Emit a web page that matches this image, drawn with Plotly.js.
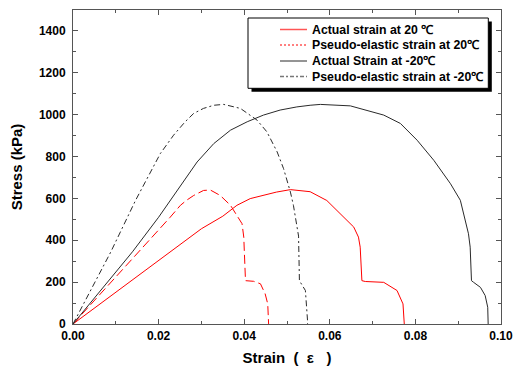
<!DOCTYPE html>
<html>
<head>
<meta charset="utf-8">
<script src="https://cdn.plot.ly/plotly-3.0.1.min.js"></script>
<style>html,body{margin:0;padding:0;background:#fff;}#chart{width:518px;height:369px;}</style>
</head>
<body>
<div id="chart"></div>
<script>
// Actual strain at 20 °C
var actual20Strain = [0, 0.005, 0.010, 0.015, 0.0185, 0.020, 0.025, 0.030, 0.035, 0.0383, 0.0414, 0.0445, 0.0475, 0.0508, 0.0554, 0.0593, 0.0625, 0.0656, 0.0667, 0.0671, 0.0675, 0.0683, 0.0726, 0.0757, 0.0771, 0.0774];
var actual20Stress = [0, 76, 152, 228, 279, 305, 380, 455, 515, 567, 599, 614, 630, 642, 632, 590, 527, 463, 415, 367, 207, 203, 199, 160, 96, 0];
// Pseudo-elastic strain at 20 °C
var pseudo20Strain = [0, 0.005, 0.010, 0.0154, 0.020, 0.0227, 0.0251, 0.0266, 0.0282, 0.0305, 0.0321, 0.0344, 0.0368, 0.0395, 0.0399, 0.0403, 0.0422, 0.0438, 0.0449, 0.0455, 0.0457];
var pseudo20Stress = [0, 112, 223, 343, 445, 510, 567, 592, 614, 638, 640, 614, 567, 479, 415, 207, 204, 192, 144, 96, 0];
// Actual strain at -20 °C
var actualM20Strain = [0, 0.005, 0.010, 0.0139, 0.020, 0.0251, 0.029, 0.0329, 0.0368, 0.0407, 0.0445, 0.0484, 0.0523, 0.0554, 0.0578, 0.0648, 0.0726, 0.0765, 0.0804, 0.0843, 0.0882, 0.0905, 0.0924, 0.0928, 0.0931, 0.0936, 0.0952, 0.0963, 0.0969, 0.0970];
var actualM20Stress = [0, 125, 250, 345, 510, 662, 774, 862, 926, 966, 998, 1022, 1037, 1045, 1049, 1042, 998, 958, 878, 782, 670, 591, 431, 367, 207, 199, 175, 136, 80, 0];
// Pseudo-elastic strain at -20 °C
var pseudoM20Strain = [0, 0.004, 0.0088, 0.0146, 0.0181, 0.0204, 0.0235, 0.0262, 0.0282, 0.0305, 0.0329, 0.0352, 0.0391, 0.043, 0.0453, 0.0477, 0.0492, 0.0508, 0.0515, 0.0527, 0.0529, 0.0543, 0.0548, 0.0548];
var pseudoM20Stress = [0, 158, 343, 590, 726, 814, 902, 966, 1006, 1030, 1045, 1049, 1030, 974, 918, 822, 742, 630, 567, 420, 207, 160, 16, 0];

var seriesNames = ['Actual strain at 20 \u2103', 'Pseudo-elastic strain at 20\u2103', 'Actual Strain at -20\u2103', 'Pseudo-elastic strain at -20\u2103'];

var RED = '#ff0000', DARK = '#2a2a2a';
var styles = [
  {color: RED, width: 1, dash: 'solid'},
  {color: RED, width: 1, dash: '9px,4px'},
  {color: DARK, width: 1, dash: 'solid'},
  {color: DARK, width: 1, dash: '6px,3px,2px,3px'}
];
var legendStyles = [
  {color: '#ff5555', width: 1.5, dash: 'solid'},
  {color: RED, width: 1, dash: '2px,2px'},
  {color: DARK, width: 1, dash: 'solid'},
  {color: '#777777', width: 1.5, dash: '4px,2px,2px,2px'}
];
var xs = [actual20Strain, pseudo20Strain, actualM20Strain, pseudoM20Strain];
var ys = [actual20Stress, pseudo20Stress, actualM20Stress, pseudoM20Stress];

var traces = xs.map(function (x, i) {
  return {x: x, y: ys[i], name: seriesNames[i], mode: 'lines', line: styles[i], showlegend: false};
});

// Legend box (drawn as shapes + annotations to match the compact original)
var plotL = 73, plotW = 428, plotB = 324, plotH = 314;
function px2x(p) { return (p - plotL) / plotW; }
function px2y(p) { return (plotB - p) / plotH; }
var rowY = [29.5, 45, 61, 76.5];

var shapes = [
  {type: 'rect', xref: 'paper', yref: 'paper', x0: px2x(251.5), x1: px2x(491.8), y0: px2y(91.8), y1: px2y(21.5),
   fillcolor: '#000', line: {width: 0}, layer: 'above'},
  {type: 'rect', xref: 'paper', yref: 'paper', x0: px2x(248), x1: px2x(488.3), y0: px2y(88.3), y1: px2y(18),
   fillcolor: '#fff', line: {color: '#000', width: 1}, layer: 'above'}
];
var annotations = [];
seriesNames.forEach(function (name, i) {
  shapes.push({type: 'line', xref: 'paper', yref: 'paper', x0: px2x(280), x1: px2x(307), y0: px2y(rowY[i]), y1: px2y(rowY[i]),
    line: legendStyles[i], layer: 'above'});
  annotations.push({xref: 'paper', yref: 'paper', x: px2x(310.5), y: px2y(rowY[i]), xanchor: 'left', yanchor: 'middle',
    text: name, showarrow: false, borderpad: 0,
    font: {family: 'Liberation Sans, Arial, sans-serif', size: 12.3, color: '#000', weight: 'bold'}});
});

var tickFont = {family: 'Liberation Sans, Arial, sans-serif', size: 12, color: '#000', weight: 'bold'};
var titleFont = {family: 'Liberation Sans, Arial, sans-serif', size: 15, color: '#000', weight: 'bold'};
var layout = {
  width: 518, height: 369,
  margin: {l: 73, r: 17, t: 10, b: 45},
  paper_bgcolor: '#fff', plot_bgcolor: '#fff',
  showlegend: false,
  xaxis: {
    range: [0, 0.1], dtick: 0.02, tick0: 0, tickformat: '.2f',
    ticks: 'inside', ticklen: 5, tickcolor: '#555', mirror: 'ticks',
    showline: true, linecolor: '#555', linewidth: 1,
    showgrid: false, zeroline: false,
    minor: {dtick: 0.01, ticks: 'inside', ticklen: 3, tickcolor: '#555', showgrid: false},
    tickfont: tickFont, ticklabelstandoff: 1,
    title: {text: 'Strain\u00a0\u00a0(\u00a0\u00a0\u03b5\u00a0\u00a0\u00a0)', font: titleFont, standoff: 10}
  },
  yaxis: {
    range: [0, 1500], dtick: 200, tick0: 0,
    ticks: 'inside', ticklen: 5, tickcolor: '#555', mirror: 'ticks',
    showline: true, linecolor: '#555', linewidth: 1,
    showgrid: false, zeroline: false,
    minor: {dtick: 100, ticks: 'inside', ticklen: 3, tickcolor: '#555', showgrid: false},
    tickfont: tickFont, ticklabelstandoff: 4,
    title: {text: 'Stress (kPa)', font: titleFont, standoff: 12}
  },
  shapes: shapes,
  annotations: annotations
};

Plotly.newPlot('chart', traces, layout, {displayModeBar: false, staticPlot: true});
</script>
</body>
</html>
